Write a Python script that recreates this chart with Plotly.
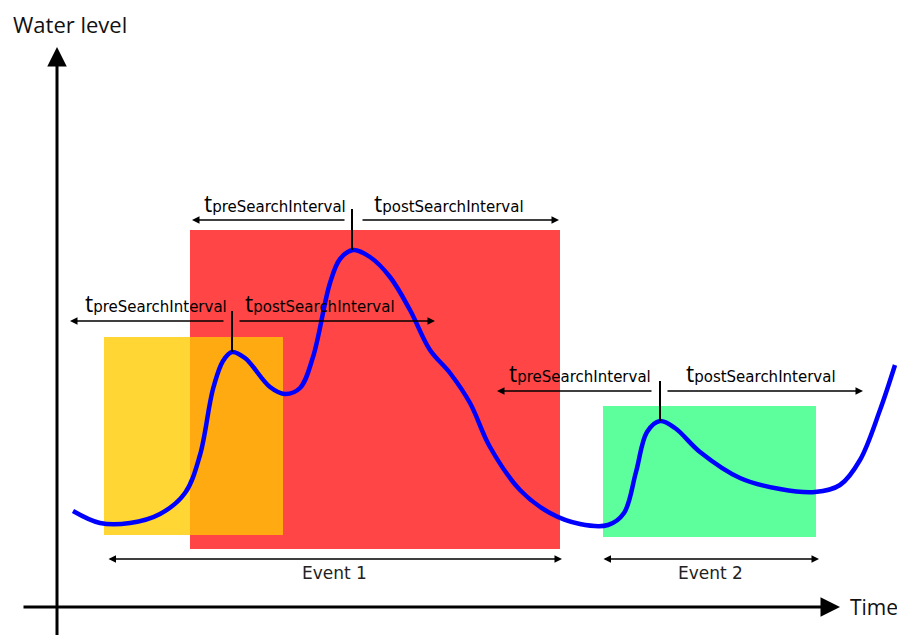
import plotly.graph_objects as go

# ---- data (time units ~ pixels, level = height above bottom) ----
H = 635
curve_time = [73, 100, 130, 160, 185, 200, 213, 223, 232, 245, 270, 285, 300, 313, 330, 340, 353,
              370, 390, 410, 430, 450, 470, 490, 520, 550, 580, 608, 624, 636, 647, 660, 675,
              700, 740, 780, 815, 840, 860, 880, 895]
curve_y_px = [511, 523, 523, 514, 493, 455, 389, 361, 352, 358, 387, 394, 388, 357, 283, 259, 250,
              257, 277, 310, 350, 373, 403, 447, 490, 513, 524, 525, 513, 472, 432, 421, 428,
              452, 478, 489, 492, 485, 460, 410, 365]
curve_level = [H - v for v in curve_y_px]

# event windows: [t_start, t_end, level_bottom, level_top]
win_yellow = [104, 283, H - 535, H - 337]
win_red = [190, 560, H - 549, H - 230]
win_green = [603, 816, H - 537, H - 406]

peak_time = [232, 352, 660]
peak_level = [H - 352, H - 250, H - 421]
marker_top = [H - 311, H - 209, H - 381]

# search interval arrows: (left_head, left_tail, right_tail, right_head, level)
interval_rows = [
    (192, 346, 361, 559, H - 220),
    (70, 225, 238, 435, H - 321),
    (497, 653, 666, 863, H - 391),
]
label_rows = [  # (pre_x, post_x, level)
    (202, 372, H - 203),
    (83, 243, H - 303),
    (507, 684, H - 373),
]
events = [("Event 1", 107, 562), ("Event 2", 602, 819)]
event_level = H - 559
event_text_level = H - 573

fig = go.Figure()

def rect(w, color):
    fig.add_shape(type="rect", x0=w[0], x1=w[1], y0=w[2], y1=w[3],
                  fillcolor=color, line=dict(width=0), layer="below")

rect(win_red, "#ff4545")
rect(win_yellow, "#ffd633")
overlap = [max(win_red[0], win_yellow[0]), min(win_red[1], win_yellow[1]),
           max(win_red[2], win_yellow[2]), min(win_red[3], win_yellow[3])]
rect(overlap, "#ffaa10")
rect(win_green, "#5cff9c")

fig.add_trace(go.Scatter(x=curve_time, y=curve_level, mode="lines",
                         line=dict(color="#0000ff", width=4.5, shape="spline", smoothing=1.0),
                         hoverinfo="skip", showlegend=False))

for t, lv, top in zip(peak_time, peak_level, marker_top):
    fig.add_shape(type="line", x0=t, x1=t, y0=lv, y1=top,
                  line=dict(color="black", width=2))

def arrow(x, y, ax, ay, width=1.5, size=1.0, side="end"):
    fig.add_annotation(x=x, y=y, ax=ax, ay=ay, xref="x", yref="y", axref="x", ayref="y",
                       showarrow=True, arrowhead=2, arrowwidth=width, arrowsize=size,
                       arrowcolor="black", arrowside=side, standoff=0, startstandoff=0, text="")

for lh, lt, rt, rh, lv in interval_rows:
    arrow(lh, lv, lt, lv)
    arrow(rh, lv, rt, lv)

sub = "<span style='font-family:DejaVu Sans;font-size:15px'>%s</span>"
for px, qx, lv in label_rows:
    fig.add_annotation(x=px, y=lv, xref="x", yref="y", xanchor="left", yanchor="middle",
                       showarrow=False, text="t" + sub % "preSearchInterval",
                       font=dict(family="Open Sans", size=23, color="black"))
    fig.add_annotation(x=qx, y=lv, xref="x", yref="y", xanchor="left", yanchor="middle",
                       showarrow=False, text="t" + sub % "postSearchInterval",
                       font=dict(family="Open Sans", size=23, color="black"))

for name, a, b in events:
    arrow(b, event_level, a, event_level, side="end+start")
    fig.add_annotation(x=(a + b) / 2, y=event_text_level, xref="x", yref="y",
                       showarrow=False, text=name,
                       font=dict(family="DejaVu Sans", size=17, color="#222222"))

# axes
arrow(57, H - 47, 57, H - 640, width=3, size=1.3)
arrow(840, H - 607, 22, H - 607, width=3, size=1.3)
fig.add_annotation(x=11, y=H - 24, xref="x", yref="y", xanchor="left", yanchor="middle",
                   showarrow=False, text="Water level",
                   font=dict(family="Open Sans", size=22, color="#111111"))
fig.add_annotation(x=848, y=H - 607, xref="x", yref="y", xanchor="left", yanchor="middle",
                   showarrow=False, text="Time",
                   font=dict(family="Open Sans", size=21, color="#111111"))

# page body has an 8px margin: size the figure to fill the rest of the window
OFF = 8
fig.update_layout(width=905 - OFF, height=H - OFF, margin=dict(l=0, r=0, t=0, b=0),
                  plot_bgcolor="white", paper_bgcolor="white", showlegend=False)
fig.update_xaxes(range=[OFF, 905], visible=False, fixedrange=True)
fig.update_yaxes(range=[0, H - OFF], visible=False, fixedrange=True)

fig.write_html("out.html", config={"displayModeBar": False})
